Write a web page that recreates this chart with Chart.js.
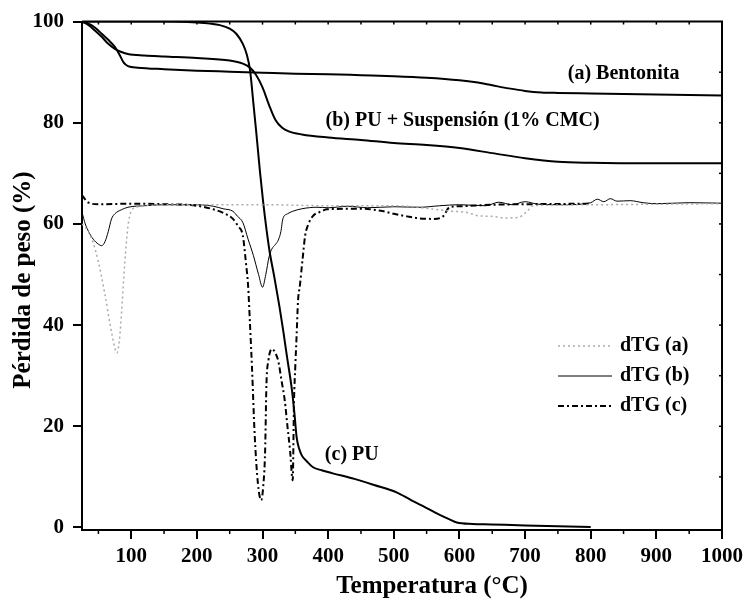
<!DOCTYPE html>
<html>
<head>
<meta charset="utf-8">
<script src="https://cdn.jsdelivr.net/npm/chart.js@4/dist/chart.umd.min.js"></script>
<style>
  html, body { margin: 0; padding: 0; background: #fff; }
  #wrap { width: 748px; height: 601px; }
</style>
</head>
<body>
<div id="wrap"><canvas id="tgaChart"></canvas></div>
<script>
// TG curves (temperature in °C, weight %)
const tempA = [25, 35, 45, 55, 65, 75, 82, 88, 95, 110, 150, 200, 250, 300, 350, 400, 450, 500, 550, 600, 625, 650, 675, 700, 725, 750, 800, 850, 900, 950, 1000];
const tgA   = [100, 99.6, 98.8, 97.6, 96.4, 95.0, 93.5, 92.0, 91.2, 90.9, 90.6, 90.3, 90.1, 89.9, 89.7, 89.6, 89.4, 89.2, 88.9, 88.4, 88.0, 87.4, 86.8, 86.3, 86.0, 85.9, 85.8, 85.7, 85.6, 85.5, 85.4];

const tempB = [25, 35, 45, 55, 65, 75, 85, 95, 120, 150, 200, 250, 270, 280, 290, 300, 310, 320, 330, 340, 360, 400, 450, 500, 550, 600, 650, 700, 750, 800, 900, 1000];
const tgB   = [100, 99.3, 98.2, 97.0, 95.6, 94.6, 94.0, 93.6, 93.3, 93.1, 92.8, 92.3, 91.7, 91.0, 89.5, 87.0, 83.5, 80.5, 79.0, 78.3, 77.7, 77.1, 76.6, 76.0, 75.6, 75.0, 74.0, 73.0, 72.3, 72.1, 72.0, 72.0];

const tempC = [25, 150, 200, 220, 235, 250, 260, 270, 276, 281, 286, 291, 296, 301, 306, 311, 318, 326, 332, 337, 345, 349, 352, 356, 360, 368, 377, 390, 407, 440, 470, 505, 525, 546, 570, 585, 596, 620, 648, 700, 750, 800];
const tgC   = [100, 100, 99.8, 99.6, 99.3, 98.6, 97.6, 95.6, 93.5, 90.4, 84.0, 77.4, 70.5, 64.3, 59.0, 54.4, 49.5, 43.5, 38.5, 34.0, 27.0, 22.0, 17.8, 15.5, 14.2, 13.0, 11.9, 11.3, 10.7, 9.6, 8.4, 6.9, 5.5, 4.1, 2.5, 1.6, 1.0, 0.7, 0.6, 0.4, 0.25, 0.1];

// dTG curves (shifted onto the same axis)
const dTempA = [25, 32, 40, 50, 60, 68, 75, 78, 82, 86, 90, 95, 100, 110, 130, 200, 300, 400, 500, 590, 610, 630, 650, 670, 690, 703, 712, 800, 900, 1000];
const dtgA   = [60.0, 59.0, 57.0, 52.5, 46.0, 40.0, 35.5, 34.5, 37.0, 44.0, 52.0, 59.5, 62.5, 63.4, 63.7, 63.8, 63.8, 63.6, 63.6, 62.5, 62.3, 61.6, 61.5, 61.2, 61.3, 62.5, 63.6, 63.8, 63.9, 64.0];

const dTempB = [25, 30, 35, 42, 50, 55, 60, 65, 70, 75, 85, 95, 120, 150, 200, 225, 240, 255, 262, 270, 278, 286, 294, 300, 305, 310, 314, 320, 324, 328, 331, 338, 346, 360, 383, 400, 430, 460, 500, 540, 570, 600, 640, 660, 680, 700, 720, 760, 800, 810, 820, 830, 840, 860, 880, 900, 950, 1000];
const dtgB   = [62.3, 60.0, 58.5, 57.0, 56.0, 55.7, 56.5, 58.5, 61.0, 62.0, 62.8, 63.3, 63.6, 63.8, 63.8, 63.5, 63.0, 62.5, 61.5, 60.3, 57.0, 53.8, 50.0, 47.5, 50.0, 53.5, 55.0, 56.0, 56.8, 58.5, 61.0, 62.0, 62.5, 63.0, 63.3, 63.2, 63.5, 63.2, 63.4, 63.3, 63.6, 63.8, 63.6, 64.3, 63.8, 64.4, 63.9, 63.8, 64.2, 64.9, 64.4, 65.0, 64.5, 64.6, 64.2, 64.0, 64.2, 64.1];

const dTempC = [25, 30, 35, 50, 100, 150, 200, 225, 240, 255, 263, 270, 275, 278, 281, 284, 288, 293, 298, 301, 304, 306, 309, 314, 319, 324, 329, 334, 338, 342, 346, 348, 350, 352, 354, 357, 361, 365, 370, 377, 390, 398, 450, 480, 500, 520, 540, 560, 575, 585, 600, 650, 700, 800];
const dtgC   = [65.7, 64.8, 64.2, 63.9, 64.0, 63.9, 63.6, 62.9, 62.2, 61.0, 59.5, 57.7, 52.0, 47.9, 40.0, 31.5, 18.5, 8.7, 5.4, 8.0, 15.2, 28.4, 33.0, 35.3, 34.6, 32.9, 29.0, 25.0, 20.0, 15.2, 9.3, 25.0, 32.0, 38.1, 44.6, 47.9, 53.0, 57.7, 60.0, 61.6, 62.5, 62.9, 63.0, 62.6, 62.0, 61.5, 61.1, 61.0, 61.5, 63.3, 63.5, 63.8, 63.9, 64.0];

const xTicks = [100, 200, 300, 400, 500, 600, 700, 800, 900, 1000];
const yTicks = [0, 20, 40, 60, 80, 100];

const pts = (xs, ys) => xs.map((x, i) => ({ x: x, y: ys[i] }));
const FONT = "'Liberation Serif', 'Times New Roman', serif";

// frame, minor ticks, titles, curve labels and legend
const decor = {
  id: 'decor',
  afterDraw(chart) {
    const { ctx, chartArea: a, scales: { x, y } } = chart;
    ctx.save();
    ctx.strokeStyle = '#000';
    // top + right frame
    ctx.lineWidth = 2;
    ctx.beginPath();
    ctx.moveTo(a.left, a.top); ctx.lineTo(a.right, a.top); ctx.lineTo(a.right, a.bottom);
    ctx.stroke();
    // minor ticks on bottom axis, small ticks on top
    ctx.lineWidth = 1.5;
    for (let v = 50; v <= 1000; v += 50) {
      const px = x.getPixelForValue(v);
      ctx.beginPath();
      if (v % 100 !== 0) { ctx.moveTo(px, a.bottom); ctx.lineTo(px, a.bottom + 4); }
      ctx.moveTo(px, a.top); ctx.lineTo(px, a.top + 3);
      ctx.stroke();
    }
    for (let v = 10; v < 100; v += 10) {
      const py = y.getPixelForValue(v);
      ctx.beginPath(); ctx.moveTo(a.right, py); ctx.lineTo(a.right - 3, py); ctx.stroke();
    }

    ctx.fillStyle = '#000';
    ctx.font = 'bold 25px ' + FONT;
    ctx.textAlign = 'center';
    ctx.textBaseline = 'alphabetic';
    ctx.fillText('Temperatura (°C)', 432, 593);
    ctx.save();
    ctx.translate(30, 280);
    ctx.rotate(-Math.PI / 2);
    ctx.fillText('Pérdida de peso (%)', 0, 0);
    ctx.restore();

    ctx.font = 'bold 20px ' + FONT;
    ctx.textAlign = 'left';
    ctx.textBaseline = 'middle';
    ctx.fillText('(a) Bentonita', x.getPixelForValue(765), y.getPixelForValue(89.7));
    ctx.fillText('(b) PU + Suspensión (1% CMC)', x.getPixelForValue(396), y.getPixelForValue(80.3));
    ctx.fillText('(c) PU', x.getPixelForValue(395), y.getPixelForValue(14.3));

    // legend
    const rows = [
      { t: 'dTG (a)', c: '#aaa', w: 1.5, d: [2, 3] },
      { t: 'dTG (b)', c: '#000', w: 1, d: [] },
      { t: 'dTG (c)', c: '#000', w: 2, d: [6, 3, 2, 3] }
    ];
    rows.forEach((r, i) => {
      const ly = 346 + i * 30;
      ctx.strokeStyle = r.c; ctx.lineWidth = r.w; ctx.setLineDash(r.d);
      ctx.beginPath(); ctx.moveTo(558, ly); ctx.lineTo(612, ly); ctx.stroke();
      ctx.setLineDash([]);
      ctx.fillText(r.t, 620, ly);
    });
    ctx.restore();
  }
};

const line = (data, color, width, dash) => ({
  data: data, borderColor: color, borderWidth: width, borderDash: dash,
  pointRadius: 0, fill: false, cubicInterpolationMode: 'monotone'
});

new Chart(document.getElementById('tgaChart'), {
  type: 'line',
  data: {
    datasets: [
      line(pts(dTempA, dtgA), '#aaa', 1.5, [2, 3]),
      line(pts(dTempB, dtgB), '#000', 1, []),
      line(pts(dTempC, dtgC), '#000', 2, [6, 3, 2, 3]),
      line(pts(tempA, tgA), '#000', 2, []),
      line(pts(tempB, tgB), '#000', 2, []),
      line(pts(tempC, tgC), '#000', 2, [])
    ]
  },
  options: {
    responsive: true,
    maintainAspectRatio: false,
    animation: false,
    layout: { padding: { top: 17, right: 26, left: 0, bottom: 0 } },
    plugins: { legend: { display: false }, tooltip: { enabled: false } },
    scales: {
      x: {
        type: 'linear', min: 25, max: 1000,
        afterBuildTicks: s => { s.ticks = xTicks.map(v => ({ value: v })); },
        afterFit: s => { s.height = 71; },
        grid: { drawOnChartArea: false, drawTicks: true, tickLength: 9, color: '#000', lineWidth: 2 },
        border: { display: true, color: '#000', width: 2 },
        ticks: { color: '#000', padding: 5, maxRotation: 0, callback: v => String(v),
                 font: { family: FONT, size: 21, weight: 'bold' } }
      },
      y: {
        type: 'linear', min: -0.5, max: 100,
        afterBuildTicks: s => { s.ticks = yTicks.map(v => ({ value: v })); },
        afterFit: s => { s.width = 82; },
        grid: { drawOnChartArea: false, drawTicks: true, tickLength: 9, color: '#000', lineWidth: 2 },
        border: { display: true, color: '#000', width: 2 },
        ticks: { color: '#000', padding: 9, callback: v => String(v),
                 font: { family: FONT, size: 21, weight: 'bold' } }
      }
    }
  },
  plugins: [decor]
});
</script>
</body>
</html>
